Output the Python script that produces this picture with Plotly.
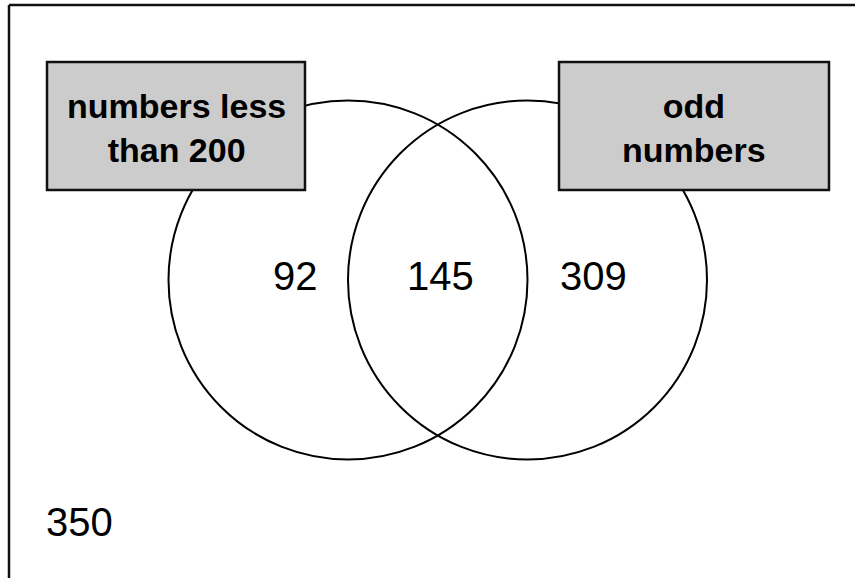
import plotly.graph_objects as go

# Data
set_labels = ["numbers less<br>than 200", "odd<br>numbers"]
region_labels = ["only A", "A and B", "only B", "neither"]
region_values = [92, 145, 309, 350]

W, H = 857, 580

fig = go.Figure()

# Layout geometry (pixels, page coordinates)
circle_centers = [(348, 280), (527.5, 280)]
R = 179.5
boxes = [(47, 62, 305, 190), (559, 62, 829, 190)]
value_pos = [(295.5, 276), (440.5, 276), (593, 276), (79.5, 522)]

shapes = []
# outer frame: only its top and left edges fall inside the picture
shapes.append(dict(type="line", xref="x", yref="y", x0=9, y0=5, x1=9, y1=H - 2,
                   line=dict(color="#111111", width=2.5)))
shapes.append(dict(type="line", xref="x", yref="y", x0=9, y0=5, x1=W - 2, y1=5,
                   line=dict(color="#111111", width=2.5)))
for cx, cy in circle_centers:
    shapes.append(dict(type="circle", xref="x", yref="y", x0=cx - R, y0=cy - R, x1=cx + R, y1=cy + R,
                       line=dict(color="black", width=2), fillcolor="rgba(0,0,0,0)"))
for x0, y0, x1, y1 in boxes:
    shapes.append(dict(type="rect", xref="x", yref="y", x0=x0, y0=y0, x1=x1, y1=y1,
                       line=dict(color="#111111", width=2.5), fillcolor="#cccccc"))

annotations = []
for (x0, y0, x1, y1), lab in zip(boxes, set_labels):
    annotations.append(dict(x=(x0 + x1) / 2, y=(y0 + y1) / 2 + 2, xref="x", yref="y", text=lab,
                            showarrow=False, align="center",
                            font=dict(family="Liberation Sans", size=34, color="black", weight="bold")))
for (x, y), v in zip(value_pos, region_values):
    annotations.append(dict(x=x, y=y, xref="x", yref="y", text=str(v), showarrow=False,
                            font=dict(family="Liberation Sans", size=40, color="black")))

fig.update_layout(
    width=W, height=H,
    margin=dict(l=0, r=0, t=0, b=0),
    paper_bgcolor="white", plot_bgcolor="white",
    xaxis=dict(range=[0, W], visible=False, fixedrange=True),
    yaxis=dict(range=[H, 0], visible=False, fixedrange=True),
    shapes=shapes, annotations=annotations, showlegend=False,
)

fig.write_html("out.html", config=dict(displayModeBar=False),
               post_script="document.body.style.margin='0';document.body.style.overflow='hidden';")
